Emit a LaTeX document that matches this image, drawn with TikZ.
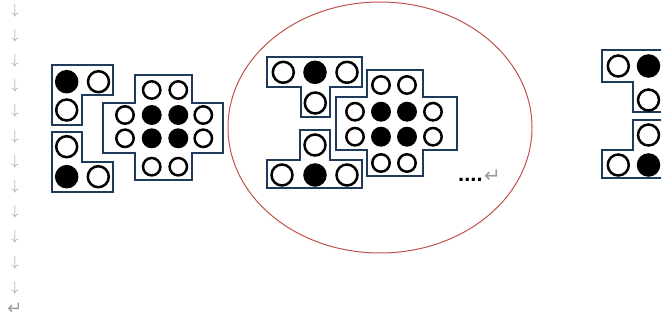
\documentclass[tikz,border=0pt]{standalone}
\usepackage{fontspec}
\usetikzlibrary{shapes.geometric}
\newfontfamily\symfont{DejaVu Sans}
\setmainfont{Liberation Sans}
\definecolor{frame}{HTML}{1F3A5A}
\definecolor{ringred}{HTML}{C0504D}
\definecolor{markgray}{HTML}{9A9A9A}
\tikzset{
  piece/.style={draw=frame, line width=2.3pt, fill=white, line join=miter},
  wb/.style={draw=black, line width=2.5pt, fill=white},
  bb/.style={draw=black, line width=2.5pt, fill=black},
  marginmark/.style={text=markgray, font=\fontsize{15}{15}\selectfont, inner sep=0pt},
  retmark/.style={text=markgray, font=\symfont\fontsize{18}{18}\selectfont, inner sep=0pt},
}
\begin{document}
\begin{tikzpicture}[x=1pt,y=-1pt]
\useasboundingbox (0,0) rectangle (661,320);
\clip (0,0) rectangle (661,320);
% margin marks
\foreach \i in {0,...,11} {
  \node[marginmark] (m\i) at (15,{10.5+25.2*\i}) {$\downarrow$};
}
\node[retmark] (mret) at (15,309) {↵};

% ellipse
\node[draw=ringred, line width=1pt, ellipse, minimum width=304pt, minimum height=251pt, inner sep=0pt] (ring) at (380,127.5) {};

% left group
\draw[piece] (51.7,65) -- (113.3,65) -- (113.3,95) -- (81.7,95) -- (81.7,125) -- (51.7,125) -- cycle;
\filldraw[bb] (66.7,81.7) circle (10.5);
\filldraw[wb] (98.5,81.7) circle (10.5);
\filldraw[wb] (66.7,110) circle (10.5);

\draw[piece] (51.7,131.7) -- (81.7,131.7) -- (81.7,161.7) -- (113.3,161.7) -- (113.3,191.7) -- (51.7,191.7) -- cycle;
\filldraw[wb] (66.7,146.7) circle (10.5);
\filldraw[bb] (66.7,176.7) circle (10.5);
\filldraw[wb] (98.3,176.7) circle (10.5);

\draw[piece] (135,75)--(191.7,75)--(191.7,103.3)--(223.3,103.3)--(223.3,153.3)--(191.7,153.3)--(191.7,180)--(135,180)--(135,153.3)--(103.3,153.3)--(103.3,103.3)--(135,103.3)--cycle;
\foreach \x in {151.7,178.3} {
  \filldraw[wb] (\x,90) circle (8.7);
  \filldraw[wb] (\x,166.7) circle (8.7);
  \filldraw[bb] (\x,115) circle (8.7);
  \filldraw[bb] (\x,138.3) circle (8.7);
}
\foreach \x in {125,203.3} {
  \filldraw[wb] (\x,115) circle (8.7);
  \filldraw[wb] (\x,138.3) circle (8.7);
}

% middle group
\draw[piece] (267.3,57.3)--(361.7,57.3)--(361.7,86.7)--(330,86.7)--(330,116.7)--(300.7,116.7)--(300.7,86.7)--(267.3,86.7)--cycle;
\filldraw[wb] (283.3,72.3) circle (10.5);
\filldraw[bb] (315,72.3) circle (10.5);
\filldraw[wb] (347,72.3) circle (10.5);
\filldraw[wb] (315.3,103) circle (10.5);

\draw[piece] (300,130)--(330,130)--(330,160)--(361.7,160)--(361.7,188.3)--(267.3,188.3)--(267.3,160)--(300,160)--cycle;
\filldraw[wb] (315,145) circle (10.5);
\filldraw[wb] (282,175) circle (10.5);
\filldraw[bb] (315,175) circle (10.5);
\filldraw[wb] (347,175) circle (10.5);

\draw[piece] (366.7,70)--(423.3,70)--(423.3,96.7)--(456.7,96.7)--(456.7,150)--(423.3,150)--(423.3,176)--(366.7,176)--(366.7,150)--(336,150)--(336,96.7)--(366.7,96.7)--cycle;
\foreach \x in {381,407} {
  \filldraw[wb] (\x,85) circle (8.7);
  \filldraw[wb] (\x,163) circle (8.7);
  \filldraw[bb] (\x,111.7) circle (8.7);
  \filldraw[bb] (\x,136.7) circle (8.7);
}
\foreach \x in {355,433} {
  \filldraw[wb] (\x,111.7) circle (8.7);
  \filldraw[wb] (\x,136.7) circle (8.7);
}

\node[font=\bfseries\fontsize{22}{22}\selectfont, inner sep=0pt, anchor=base west] (dots) at (458,182) {....};
\node[retmark, font=\symfont\fontsize{20}{20}\selectfont, anchor=base west] (ret) at ([xshift=1pt,yshift=-1pt]dots.base east) {↵};

% right group (cut off)
\draw[piece] (601.7,50)--(668,50)--(668,111.7)--(633.3,111.7)--(633.3,81.7)--(601.7,81.7)--cycle;
\filldraw[wb] (618.3,66) circle (10.5);
\filldraw[bb] (648.5,66) circle (10.5);
\filldraw[wb] (648.5,100) circle (10.5);

\draw[piece] (633.3,120)--(668,120)--(668,178.3)--(601.7,178.3)--(601.7,150)--(633.3,150)--cycle;
\filldraw[wb] (648.5,135) circle (10.5);
\filldraw[wb] (618.3,165) circle (10.5);
\filldraw[bb] (648.5,165) circle (10.5);
\end{tikzpicture}
\end{document}
